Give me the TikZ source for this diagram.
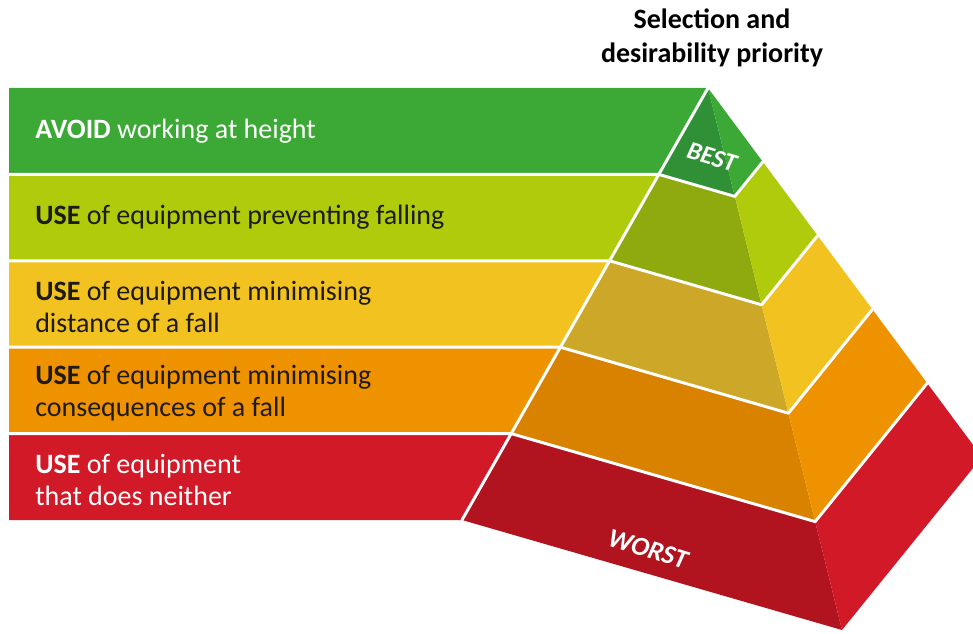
\documentclass[tikz,border=0pt]{standalone}
\usepackage{fontspec}
\setmainfont{Carlito}
\usepackage{xcolor}
\usetikzlibrary{calc}

\definecolor{avoidbar}{HTML}{3CA936}
\definecolor{avoidface}{HTML}{2F9035}
\definecolor{preventbar}{HTML}{B0CB0B}
\definecolor{preventface}{HTML}{8FAA0F}
\definecolor{distbar}{HTML}{F2C320}
\definecolor{distface}{HTML}{CDA828}
\definecolor{consbar}{HTML}{EF9200}
\definecolor{consface}{HTML}{D88200}
\definecolor{neitherbar}{HTML}{D21928}
\definecolor{neitherface}{HTML}{B1141F}
\definecolor{darktext}{HTML}{1E1A14}

\begin{document}
\begin{tikzpicture}[x=0.75pt,y=-0.75pt]
\tikzstyle{sep}=[white,line width=2.2pt,line join=round,line cap=round]
\tikzstyle{bartext}=[anchor=west,inner sep=0pt,align=left,font=\fontsize{21}{23.5}\selectfont]
\tikzstyle{tierword}=[white,inner sep=0pt,rotate=-17,font=\bfseries\itshape]

\clip (0,0) rectangle (973,634);

% pyramid corners: apex, left, front, right
\coordinate (A) at (708,88);
\coordinate (L) at (462,520);
\coordinate (F) at (842,630);
\coordinate (R) at (982,457);

% bars and pyramid faces, top to bottom
\foreach \a/\b/\bc/\fc in {0/0.2/avoidbar/avoidface,0.2/0.4/preventbar/preventface,0.4/0.6/distbar/distface,0.6/0.8/consbar/consface,0.8/1/neitherbar/neitherface}{
  \coordinate (lt) at ($(A)!\a!(L)$);
  \coordinate (lb) at ($(A)!\b!(L)$);
  \coordinate (ft) at ($(A)!\a!(F)$);
  \coordinate (fb) at ($(A)!\b!(F)$);
  \coordinate (rt) at ($(A)!\a!(R)$);
  \coordinate (rb) at ($(A)!\b!(R)$);
  \fill[\bc] (9,0 |- lt) -- (lt) -- (lb) -- (9,0 |- lb) -- cycle;
  \fill[\fc] (lt) -- (lb) -- (fb) -- (ft) -- cycle;
  \fill[\bc] (ft) -- (fb) -- (rb) -- (rt) -- cycle;
}

% white borders
\foreach \a in {0.2,0.4,0.6,0.8}{
  \coordinate (lt) at ($(A)!\a!(L)$);
  \draw[sep] (9,0 |- lt) -- (lt) -- ($(A)!\a!(F)$) -- ($(A)!\a!(R)$);
}
\draw[sep] (A) -- (L);

% labels
\node[bartext,white] (avoid) at (35,131) {\textbf{AVOID} working at height};
\node[bartext,darktext] (prevent) at (35,217) {\textbf{USE} of equipment preventing falling};
\node[bartext,darktext] (dist) at (35,307) {\textbf{USE} of equipment minimising\\distance of a fall};
\node[bartext,darktext] (cons) at (35,393) {\textbf{USE} of equipment minimising\\consequences of a fall};
\node[bartext,white] (neither) at (35,480) {\textbf{USE} of equipment\\that does neither};

\node[tierword,font=\bfseries\itshape\fontsize{19}{22}\selectfont] (best) at (712,157) {BEST};
\node[tierword,font=\bfseries\itshape\fontsize{20}{23}\selectfont] (worst) at (648,549) {WORST};

\node[align=center,inner sep=0pt,font=\bfseries\fontsize{21}{25.5}\selectfont] (title) at (712,38) {Selection and\\desirability priority};
\end{tikzpicture}
\end{document}
